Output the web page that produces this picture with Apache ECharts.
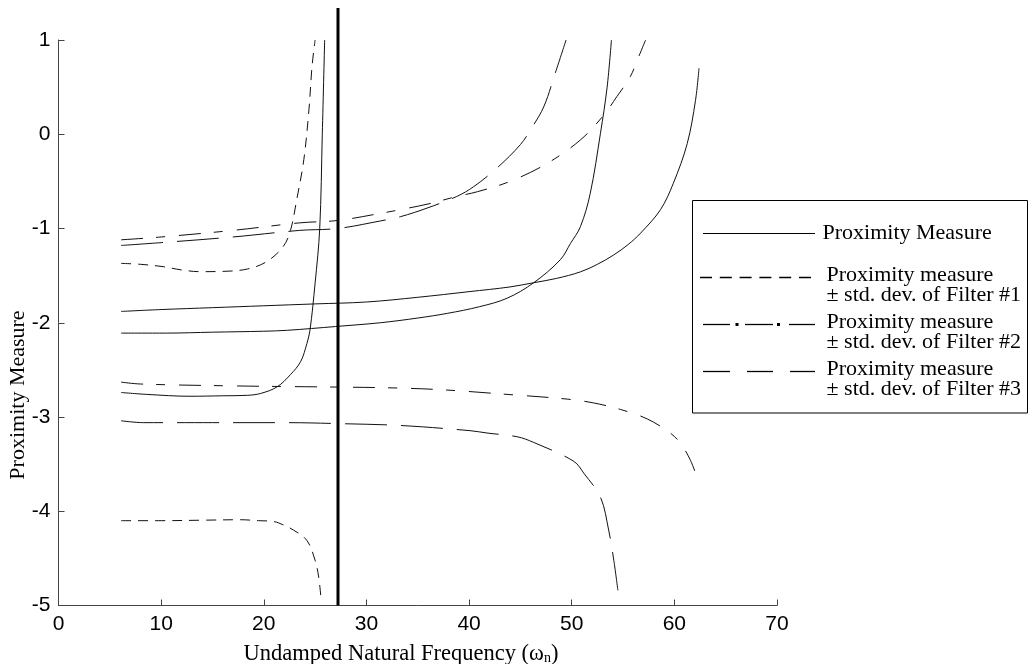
<!DOCTYPE html>
<html>
<head>
<meta charset="utf-8">
<title>Proximity Measure vs Undamped Natural Frequency</title>
<script src="https://cdn.jsdelivr.net/npm/echarts@6/dist/echarts.min.js"></script>
<style>
  html, body { margin: 0; padding: 0; background: #fff; }
  #chart { width: 1029px; height: 664px; }
</style>
</head>
<body>
<div id="chart"></div>
<script>
// ---- Axis ticks ----
const freqTicks = [0, 10, 20, 30, 40, 50, 60, 70];
const measureTicks = [-5, -4, -3, -2, -1, 0, 1];

// ---- Proximity measure, Filter #1 ----
const pm1Freq = [6.1, 8.6, 12.8, 16.0, 18.4, 19.7, 21.3, 22.6, 23.6, 24.2, 24.5, 25.0, 25.45, 25.7, 25.93];
const pm1Val  = [-2.74, -2.76, -2.78, -2.775, -2.77, -2.75, -2.68, -2.55, -2.41, -2.22, -2.08, -1.58, -1.0, 0.0, 1.0];
const f1UpFreq = [6.1, 8.0, 10.2, 12.0, 13.8, 16.0, 18.4, 20.3, 21.9, 22.6, 23.2, 23.9, 24.4, 24.7, 25.0];
const f1UpVal  = [-1.37, -1.38, -1.405, -1.44, -1.458, -1.455, -1.43, -1.35, -1.19, -1.02, -0.70, -0.27, 0.26, 0.72, 1.0];
const f1LoFreq = [6.1, 10.0, 14.0, 17.7, 19.5, 21.0, 22.0, 22.9, 24.2, 25.0, 25.35, 25.57];
const f1LoVal  = [-4.10, -4.10, -4.095, -4.09, -4.10, -4.11, -4.15, -4.20, -4.31, -4.52, -4.70, -4.92];

// ---- Proximity measure, Filter #2 ----
const pm2Freq = [6.1, 10, 15, 20, 25, 30, 35, 40, 44, 46.3, 48.5, 50.85, 52.5, 54.1, 55.5, 56.7, 58.65, 59.9, 61.25, 62.06, 62.4];
const pm2Val  = [-1.88, -1.86, -1.84, -1.82, -1.80, -1.78, -1.73, -1.67, -1.62, -1.575, -1.53, -1.46, -1.38, -1.28, -1.17, -1.05, -0.80, -0.52, -0.10, 0.36, 0.70];
const f2UpFreq = [6.1, 10, 17, 23.5, 27.2, 31.35, 33.3, 36, 38.8, 40.8, 44, 47.6, 50.85, 53.1, 54.4, 55.7, 56.4, 57.2];
const f2UpVal  = [-1.12, -1.09, -1.02, -0.94, -0.915, -0.84, -0.80, -0.74, -0.66, -0.61, -0.50, -0.31, -0.06, 0.20, 0.40, 0.61, 0.79, 1.0];
const f2LoFreq = [6.1, 8, 17, 25, 32, 37.2, 43.7, 49.55, 52.1, 54.75, 57.35, 59.6, 60.6, 61.57, 62.4];
const f2LoVal  = [-2.63, -2.65, -2.67, -2.68, -2.69, -2.71, -2.76, -2.81, -2.85, -2.92, -3.02, -3.17, -3.28, -3.46, -3.70];

// ---- Proximity measure, Filter #3 ----
const pm3Freq = [6.1, 10.5, 15, 20, 22.3, 27, 31.35, 35, 37.9, 41, 43.7, 46.3, 48.9, 49.87, 50.85, 51.8, 52.8, 53.45, 53.87];
const pm3Val  = [-2.11, -2.11, -2.10, -2.09, -2.08, -2.04, -2.0, -1.95, -1.90, -1.83, -1.74, -1.575, -1.33, -1.16, -0.98, -0.63, 0.01, 0.50, 1.0];
const f3UpFreq = [6.1, 10, 17, 23.5, 27.2, 31.35, 33.3, 36, 38.8, 40.45, 42.7, 45, 45.97, 47.27, 48.4, 49.45];
const f3UpVal  = [-1.18, -1.15, -1.09, -1.02, -1.0, -0.92, -0.875, -0.78, -0.66, -0.556, -0.36, -0.11, 0.045, 0.29, 0.65, 1.0];
const f3LoFreq = [6.1, 8.3, 15, 22.3, 27.2, 33.3, 40.1, 41.75, 44.7, 46.3, 50.2, 51.2, 52.8, 53.6, 54.1, 54.5];
const f3LoVal  = [-3.04, -3.06, -3.06, -3.06, -3.07, -3.09, -3.145, -3.17, -3.21, -3.27, -3.47, -3.60, -3.85, -4.20, -4.52, -4.84];

// ---- Reference frequency marker ----
const markerFreq = [27.23, 27.23];
const markerVal  = [-5, 1.34];

// ---- Legend entries ----
const legendTitles = ['Proximity Measure', 'Proximity measure', 'Proximity measure', 'Proximity measure'];
const legendSubtitles = ['', '± std. dev. of Filter #1', '± std. dev. of Filter #2', '± std. dev. of Filter #3'];

const zip = (xs, ys) => xs.map((x, i) => [x, ys[i]]);

const SOLID = 'solid';
const DASH_F1 = [10, 7];
const DASH_F2 = [22, 13, 9, 14];
const DASH_F3 = [42, 14];

function curve(name, xs, ys, dash) {
  return {
    name: name,
    type: 'line',
    data: zip(xs, ys),
    symbol: 'none',
    smooth: 0.35,
    silent: true,
    lineStyle: { color: '#111', width: 1, type: dash }
  };
}

const serifFamily = '"Liberation Serif", "Times New Roman", serif';
const serifFont = '22px ' + serifFamily;
const legendLeft = 692.5, legendTop = 200.5;
const rowY = [233.5, 277.5, 324.5, 371.5];

const legendGraphics = [
  { type: 'rect', z: 100, shape: { x: legendLeft, y: legendTop, width: 335, height: 212.5 },
    style: { fill: '#fff', stroke: '#000', lineWidth: 1 } },
  // solid sample
  { type: 'line', z: 101, shape: { x1: 703, y1: rowY[0], x2: 815, y2: rowY[0] },
    style: { stroke: '#000', lineWidth: 1.2 } },
  // short dashes sample
  { type: 'line', z: 101, shape: { x1: 700, y1: rowY[1], x2: 811, y2: rowY[1] },
    style: { stroke: '#000', lineWidth: 1.5, lineDash: [12, 7.8] } },
  // dash-dot sample
  { type: 'line', z: 101, shape: { x1: 703, y1: rowY[2], x2: 730, y2: rowY[2] }, style: { stroke: '#000', lineWidth: 1.3 } },
  { type: 'rect', z: 101, shape: { x: 735.5, y: rowY[2] - 1.5, width: 3, height: 3 }, style: { fill: '#000' } },
  { type: 'line', z: 101, shape: { x1: 745, y1: rowY[2], x2: 773, y2: rowY[2] }, style: { stroke: '#000', lineWidth: 1.3 } },
  { type: 'rect', z: 101, shape: { x: 777, y: rowY[2] - 1.5, width: 3, height: 3 }, style: { fill: '#000' } },
  { type: 'line', z: 101, shape: { x1: 789, y1: rowY[2], x2: 815, y2: rowY[2] }, style: { stroke: '#000', lineWidth: 1.3 } },
  // long dashes sample
  { type: 'line', z: 101, shape: { x1: 703, y1: rowY[3], x2: 730, y2: rowY[3] }, style: { stroke: '#000', lineWidth: 1.3 } },
  { type: 'line', z: 101, shape: { x1: 747, y1: rowY[3], x2: 773, y2: rowY[3] }, style: { stroke: '#000', lineWidth: 1.3 } },
  { type: 'line', z: 101, shape: { x1: 790, y1: rowY[3], x2: 815, y2: rowY[3] }, style: { stroke: '#000', lineWidth: 1.3 } },
  // entry labels
  { type: 'text', z: 101, x: 822.5, y: rowY[0],
    style: { text: legendTitles[0], font: serifFont, fill: '#000', align: 'left', verticalAlign: 'middle' } }
];
for (let i = 1; i < 4; i++) {
  legendGraphics.push(
    { type: 'text', z: 101, x: 826.5, y: rowY[i] - 2,
      style: { text: legendTitles[i], font: serifFont, fill: '#000', align: 'left', verticalAlign: 'middle' } },
    { type: 'text', z: 101, x: 826.5, y: rowY[i] + 18,
      style: { text: legendSubtitles[i], font: serifFont, fill: '#000', align: 'left', verticalAlign: 'middle' } }
  );
}

const chart = echarts.init(document.getElementById('chart'), null, { renderer: 'canvas' });

const axisCommon = {
  type: 'value',
  axisLine: { show: true, onZero: false, lineStyle: { color: '#444', width: 1 } },
  axisTick: { show: true, inside: true, length: 6, lineStyle: { color: '#444', width: 1 } },
  splitLine: { show: false },
  axisLabel: { color: '#000', fontFamily: '"Liberation Sans", Arial, sans-serif', fontSize: 21, margin: 8 }
};

chart.setOption({
  backgroundColor: '#fff',
  animation: false,
  grid: { left: 58.5, top: 40, width: 718.5, height: 565.5, containLabel: false },
  xAxis: Object.assign({}, axisCommon, {
    min: freqTicks[0], max: freqTicks[freqTicks.length - 1], interval: 10
  }),
  yAxis: Object.assign({}, axisCommon, {
    min: measureTicks[0], max: measureTicks[measureTicks.length - 1], interval: 1
  }),
  series: [
    curve('Proximity Measure', pm1Freq, pm1Val, SOLID),
    curve('Proximity Measure', pm2Freq, pm2Val, SOLID),
    curve('Proximity Measure', pm3Freq, pm3Val, SOLID),
    curve('Filter #1 upper', f1UpFreq, f1UpVal, DASH_F1),
    curve('Filter #1 lower', f1LoFreq, f1LoVal, DASH_F1),
    curve('Filter #2 upper', f2UpFreq, f2UpVal, DASH_F2),
    curve('Filter #2 lower', f2LoFreq, f2LoVal, DASH_F2),
    curve('Filter #3 upper', f3UpFreq, f3UpVal, DASH_F3),
    curve('Filter #3 lower', f3LoFreq, f3LoVal, DASH_F3),
    {
      name: 'marker',
      type: 'line',
      data: zip(markerFreq, markerVal),
      symbol: 'none',
      clip: false,
      silent: true,
      z: 5,
      lineStyle: { color: '#000', width: 3 }
    }
  ],
  graphic: [
    // x-axis title with subscript
    { type: 'text', x: 401, y: 654,
      style: {
        text: '{m|Undamped Natural Frequency (ω}{s|n}{m|)}',
        align: 'center', verticalAlign: 'middle', fill: '#000',
        rich: {
          m: { fontFamily: serifFamily, fontSize: 22.5, lineHeight: 22 },
          s: { fontFamily: serifFamily, fontSize: 14, lineHeight: 10, verticalAlign: 'bottom' }
        }
      } },
    // y-axis title
    { type: 'text', x: 18.5, y: 395, rotation: Math.PI / 2,
      style: { text: 'Proximity Measure', font: serifFont, fill: '#000', align: 'center', verticalAlign: 'middle' } }
  ].concat(legendGraphics)
});
</script>
</body>
</html>
